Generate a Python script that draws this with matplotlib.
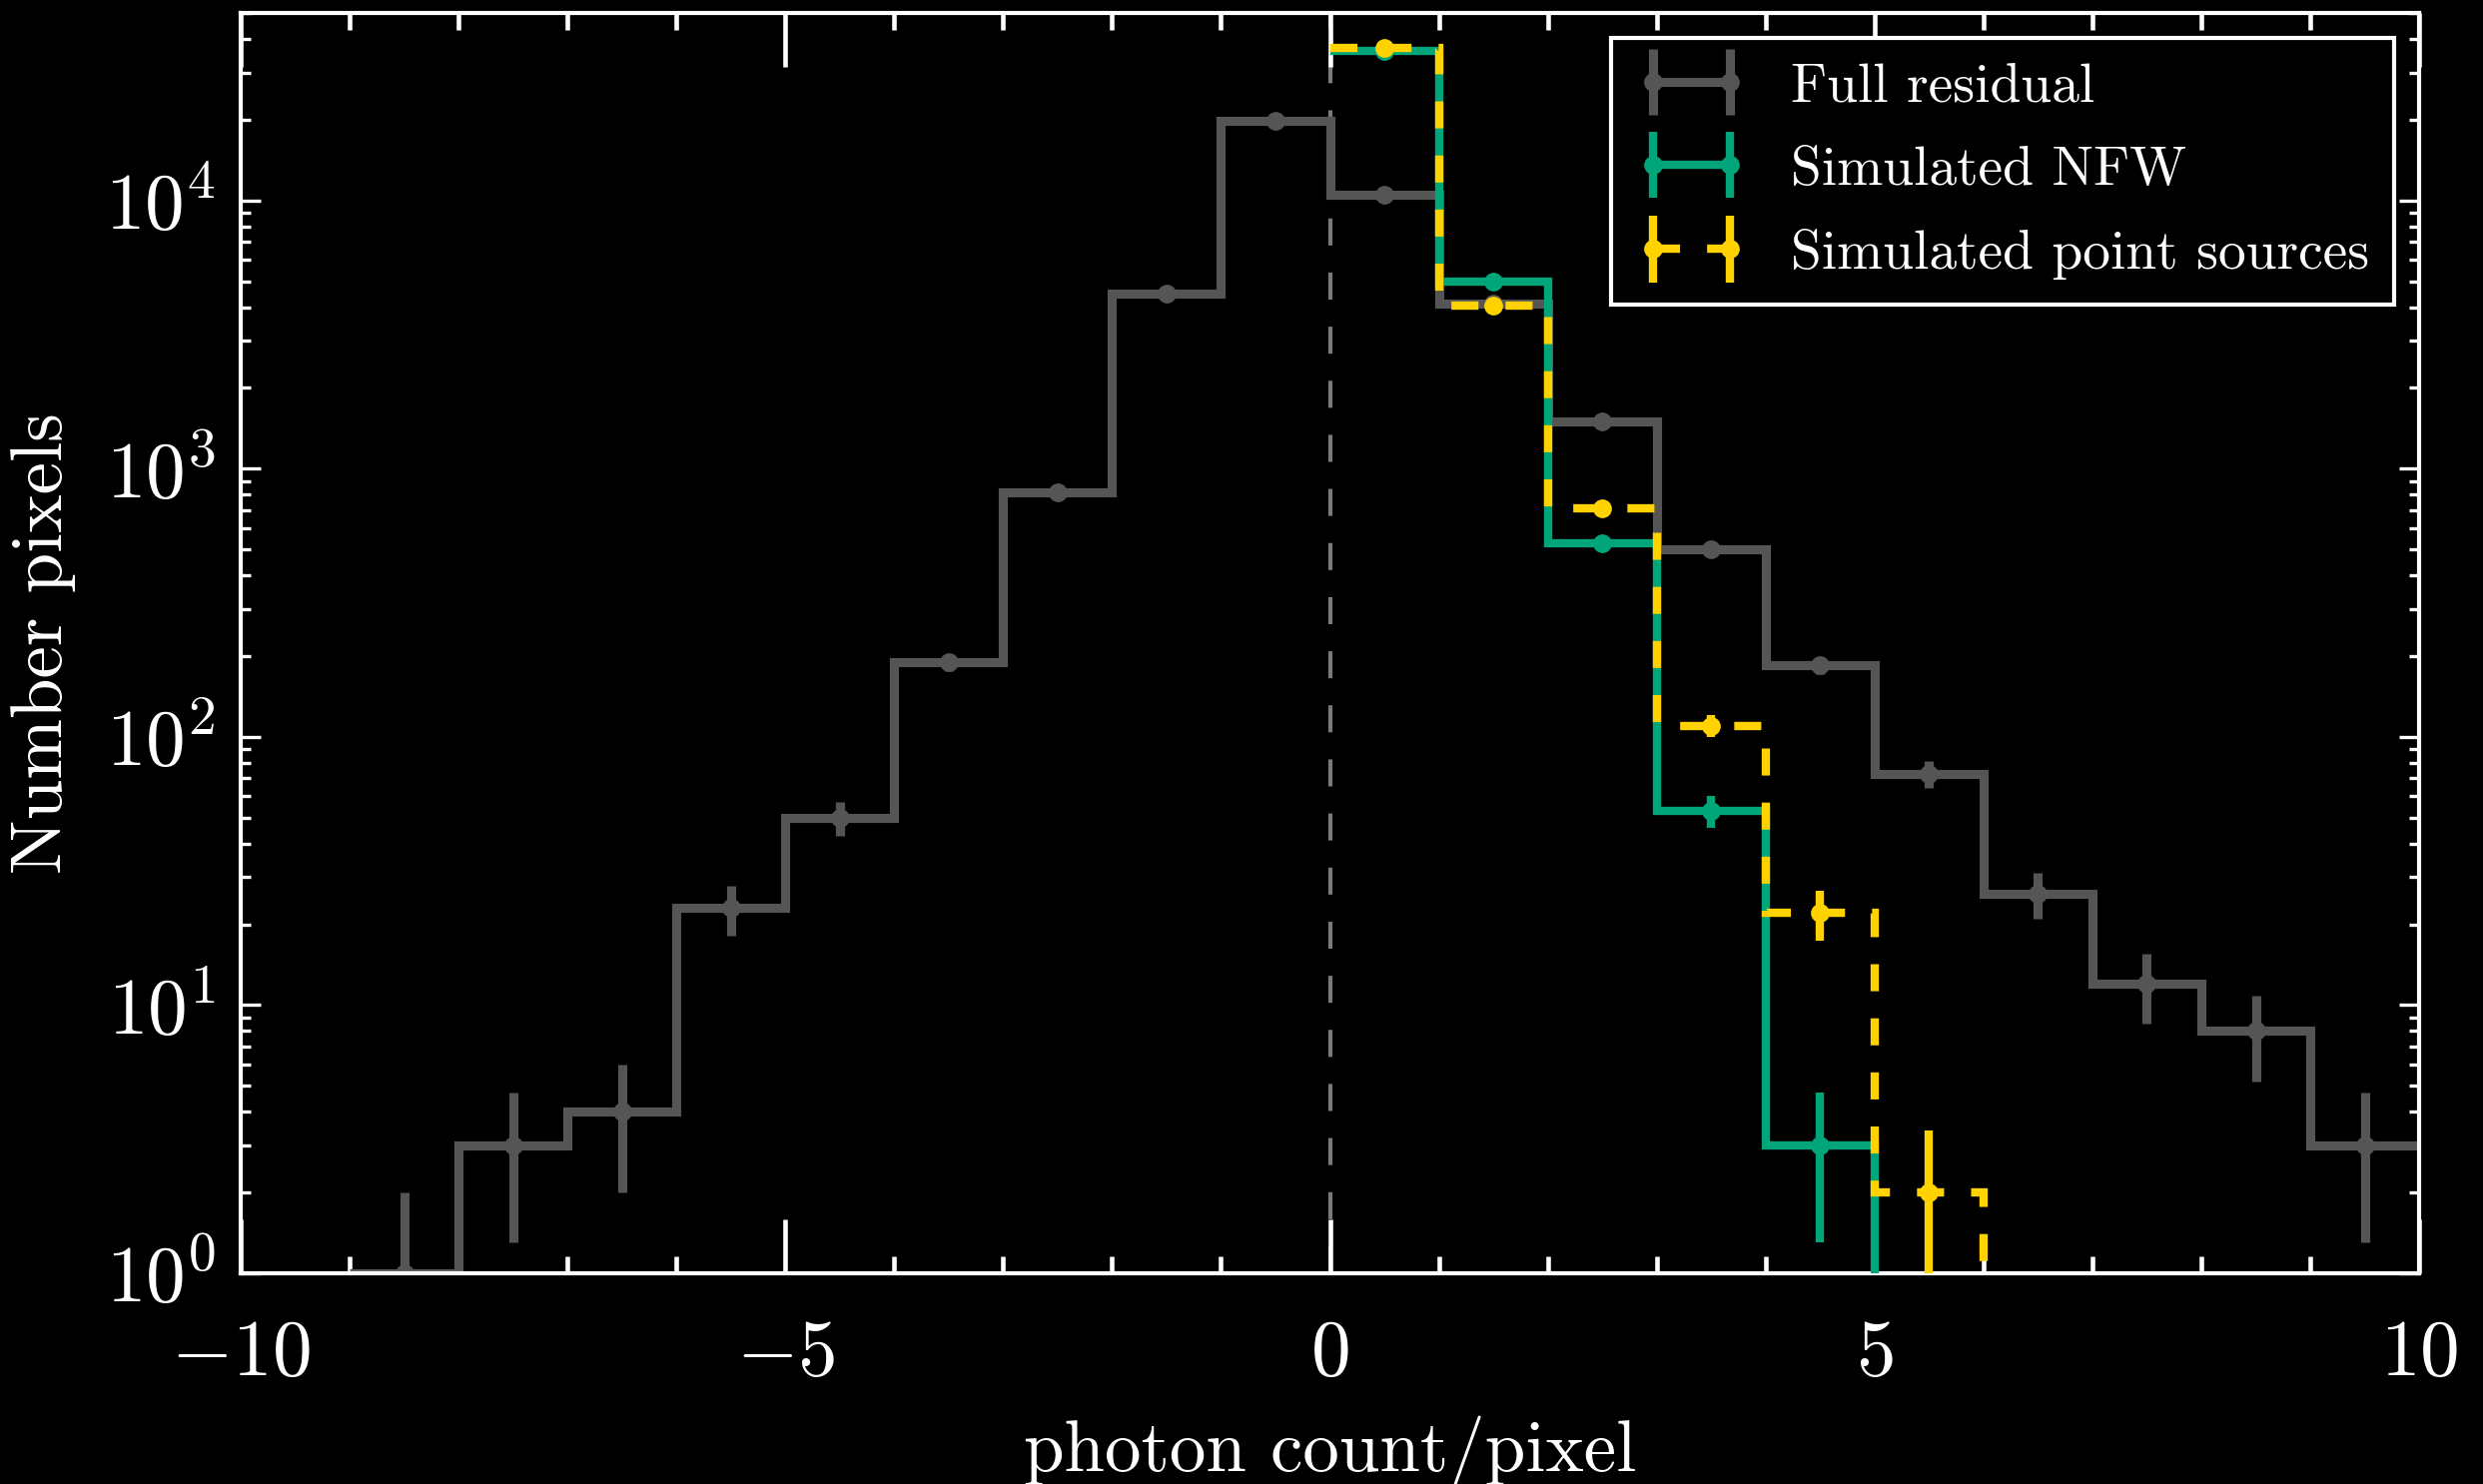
import numpy as np
import matplotlib
matplotlib.use("Agg")
import matplotlib.pyplot as plt
from matplotlib.ticker import MultipleLocator, LogLocator, NullFormatter
from matplotlib.legend_handler import HandlerErrorbar
from matplotlib.container import ErrorbarContainer

# histogram data (bin edges are integers)
full_edges = np.arange(-9, 11)
full_counts = [1, 3, 4, 23, 50, 190, 815, 4480, 19800, 10500,
               4120, 1500, 500, 185, 73, 26, 12, 8, 3]
full_err = [1.0, 1.7, 2.0, 4.8, 7.1, 13.8, 28.5, 66.9, 140.7, 102.5,
            64.2, 38.7, 22.4, 13.6, 8.5, 5.1, 3.5, 2.8, 1.7]

nfw_edges = np.arange(0, 7)
nfw_counts = [36000, 5000, 527, 53, 3, 0]
nfw_err = [190, 71, 23, 7.3, 1.7, 0]

ps_edges = np.arange(0, 8)
ps_counts = [37000, 4070, 711, 110, 22, 2, 0]
ps_err = [192, 64, 27, 10.5, 4.7, 1.4, 0]

grey = "#555555"
green = "#00a67a"
gold = "#ffd200"
dash = (0, (6.5, 6.5))

plt.rcParams['font.family'] = ['cmr10', 'DejaVu Serif']
plt.rcParams['mathtext.fontset'] = 'cm'
plt.rcParams['axes.formatter.use_mathtext'] = True
plt.rcParams['lines.scale_dashes'] = False

fig = plt.figure(figsize=(2487 / 300, 1486 / 300), dpi=300, facecolor='black')
ax = fig.add_axes([0.0969, 0.142, 0.9739 - 0.0969, 0.9913 - 0.142])
ax.set_facecolor('black')
ax.set_yscale('log')

ax.axvline(0, color='#7a7a7a', lw=1.0, ls=dash, zorder=1)


def draw_hist(edges, counts, err, color, ls, label, z, lw=2.0):
    edges = np.asarray(edges, float)
    counts = np.asarray(counts, float)
    err = np.asarray(err, float)
    centers = 0.5 * (edges[:-1] + edges[1:])
    ax.stairs(counts, edges, baseline=None, color=color, lw=lw, ls=ls,
              zorder=z)
    m = counts > 0
    ax.errorbar(centers[m], counts[m], yerr=err[m], fmt='o', color=color,
                ms=4.5, mew=0, elinewidth=lw, capsize=3.4, capthick=1,
                zorder=z)
    # handle for the legend only (nothing drawn)
    h = ax.errorbar([np.nan], [np.nan], yerr=[np.nan], color=color, ls=ls,
                    lw=lw, marker='o', ms=4.5, mew=0, elinewidth=lw,
                    capsize=3.4, capthick=1, label=label)
    return h


h1 = draw_hist(full_edges, full_counts, full_err, grey, '-', 'Full residual', 2, lw=2.2)
h2 = draw_hist(nfw_edges, nfw_counts, nfw_err, green, '-', 'Simulated NFW', 3)
h3 = draw_hist(ps_edges, ps_counts, ps_err, gold, dash,
               'Simulated point sources', 4)

ax.set_xlim(-10, 10)
ax.set_ylim(1, 5e4)
ax.xaxis.set_major_locator(MultipleLocator(5))
ax.xaxis.set_minor_locator(MultipleLocator(1))
ax.yaxis.set_major_locator(LogLocator(base=10))
ax.yaxis.set_minor_locator(LogLocator(base=10, subs=np.arange(2, 10)))
ax.yaxis.set_minor_formatter(NullFormatter())

ax.tick_params(axis='both', which='both', direction='in', colors='white',
               top=True, bottom=True, left=True, right=True)
ax.tick_params(axis='x', which='major', length=13, width=1.1, pad=11,
               labelsize=19)
ax.tick_params(axis='x', which='minor', length=4, width=1.1)
ax.tick_params(axis='y', which='major', length=4.8, width=0.8, pad=6,
               labelsize=19)
ax.tick_params(axis='y', which='minor', length=2.4, width=0.8)
for s in ax.spines.values():
    s.set_color('white')
    s.set_linewidth(1.0)

ax.set_xlabel('photon count/pixel', fontsize=17.5, color='white', labelpad=6)
ax.set_ylabel('Number pixels', fontsize=17.5, color='white', labelpad=7)

leg = ax.legend(handles=[h1, h2, h3], loc='upper right', numpoints=2,
                fontsize=13.3, frameon=True, fancybox=False, framealpha=1,
                facecolor='black', edgecolor='white', borderpad=0.45,
                handletextpad=0.8, labelspacing=0.6, handlelength=2.0,
                borderaxespad=0.45,
                handler_map={ErrorbarContainer: HandlerErrorbar(xerr_size=0.5, yerr_size=0.6)})
leg.get_frame().set_linewidth(1.0)
for t in leg.get_texts():
    t.set_color('white')

fig.savefig('out.png', dpi=300, facecolor='black')
